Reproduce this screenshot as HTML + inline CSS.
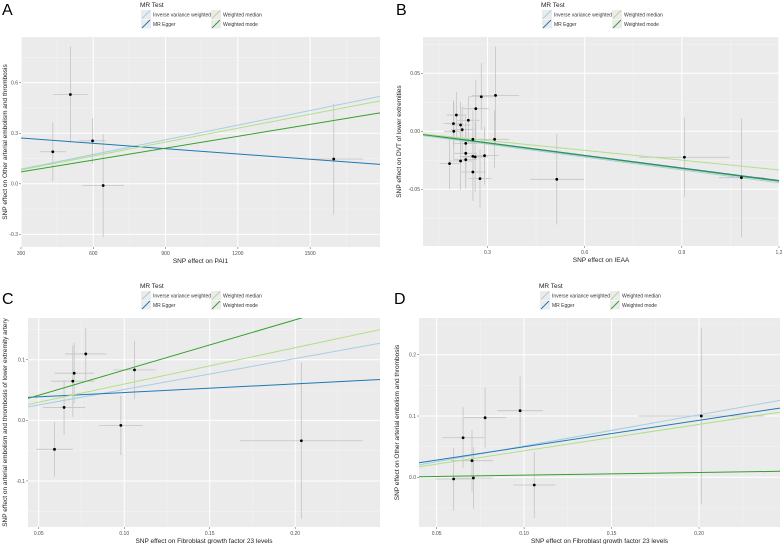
<!DOCTYPE html>
<html><head><meta charset="utf-8"><style>
body{margin:0;background:#fff;}
svg{display:block;font-family:"Liberation Sans",sans-serif;}
</style></head><body>
<svg id="fig" width="784" height="544" viewBox="0 0 784 544" xmlns="http://www.w3.org/2000/svg"></svg>
<script>
// Method order: Inverse variance weighted, MR Egger, Weighted median, Weighted mode
const methods=["Inverse variance weighted","MR Egger","Weighted median","Weighted mode"];
const methodColors=["#a6cee3","#1f78b4","#b2df8a","#33a02c"];

// Panel A
const A_x=[432,505,597,641,1598];
const A_y=[0.19,0.53,0.255,-0.01,0.147];
const A_xse=[55,72,55,86,123];
const A_yse=[0.175,0.285,0.135,0.305,0.33];
const A_slope=[0.00029,-0.000105,0.000275,0.000235];
const A_int=[0,0.303,0,0];
const A_xticks=[300,600,900,1200,1500];
const A_xlabels=["300","600","900","1200","1500"];
const A_yticks=[-0.3,0,0.3,0.6];
const A_ylabels=["-0.3","0.0","0.3","0.6"];

// Panel B
const B_x=[0.204,0.195,0.217,0.241,0.222,0.196,0.264,0.281,0.325,0.255,0.322,0.233,0.233,0.255,0.262,0.291,0.233,0.217,0.183,0.255,0.277,0.514,0.908,1.084];
const B_y=[0.014,0.0066,0.0054,0.0095,0.0014,0,0.0195,0.0298,0.031,-0.0069,-0.0069,-0.0104,-0.019,-0.0216,-0.0221,-0.021,-0.0245,-0.0256,-0.0279,-0.0351,-0.0408,-0.0414,-0.0224,-0.04];
const B_xse=[0.03,0.03,0.03,0.035,0.035,0.03,0.04,0.04,0.073,0.04,0.045,0.035,0.035,0.04,0.04,0.045,0.035,0.035,0.03,0.04,0.035,0.083,0.14,0.07];
const B_yse=[0.02,0.02,0.02,0.02,0.02,0.025,0.025,0.029,0.042,0.025,0.025,0.025,0.025,0.025,0.03,0.025,0.025,0.025,0.022,0.025,0.025,0.039,0.034,0.051];
const B_slope=[-0.037,-0.0362,-0.0282,-0.0365];
const B_int=[0,0.001,0.0005,0.0008];
const B_xticks=[0.3,0.6,0.9,1.2];
const B_xlabels=["0.3","0.6","0.9","1.2"];
const B_yticks=[-0.05,0,0.05];
const B_ylabels=["-0.05","0.00","0.05"];

// Panel C
const C_x=[0.0592,0.0648,0.0699,0.0707,0.0775,0.106,0.098,0.2036];
const C_y=[-0.0478,0.0214,0.0647,0.0779,0.1097,0.0834,-0.0082,-0.0336];
const C_xse=[0.0107,0.0122,0.0127,0.0116,0.012,0.0123,0.0127,0.036];
const C_yse=[0.045,0.045,0.059,0.05,0.043,0.048,0.049,0.129];
const C_slope=[0.51,0.143,0.60,0.83];
const C_int=[0,0.0317,0,0];
const C_xticks=[0.05,0.10,0.15,0.20];
const C_xlabels=["0.05","0.10","0.15","0.20"];
const C_yticks=[-0.1,0,0.1];
const C_ylabels=["-0.1","0.0","0.1"];

// Panel D
const D_x=[0.0597,0.0651,0.0702,0.071,0.0777,0.0977,0.1058,0.2013];
const D_y=[-0.0028,0.0646,0.0271,-0.0011,0.0973,0.1087,-0.0126,0.100];
const D_xse=[0.0105,0.012,0.012,0.011,0.012,0.013,0.012,0.036];
const D_yse=[0.051,0.05,0.05,0.05,0.049,0.056,0.054,0.143];
const D_slope=[0.51,0.432,0.432,0.0426];
const D_int=[0,0.0066,0,-0.0007];
const D_xticks=[0.05,0.10,0.15,0.20];
const D_xlabels=["0.05","0.10","0.15","0.20"];
const D_yticks=[0,0.1,0.2];
const D_ylabels=["0.0","0.1","0.2"];

const NS="http://www.w3.org/2000/svg";
const svg=document.getElementById("fig");
function mk(tag,attrs,parent){const e=document.createElementNS(NS,tag);for(const k in attrs)e.setAttribute(k,attrs[k]);(parent||svg).appendChild(e);return e;}

const panels=[
 {id:"a",letter:"A",l:21,t:37,r:380,b:247,xd:[300,1790],yd:[-0.375,0.871],x:A_x,y:A_y,xse:A_xse,yse:A_yse,sl:A_slope,ic:A_int,xt:A_xticks,xl:A_xlabels,yt:A_yticks,yl:A_ylabels,
  xtitle:"SNP effect on PAI1",ytitle:"SNP effect on Other arterial embolism and thrombosis",lx:141,ly:0,letterX:2},
 {id:"b",letter:"B",l:423,t:37,r:779,b:246,xd:[0.101,1.2],yd:[-0.0989,0.0813],x:B_x,y:B_y,xse:B_xse,yse:B_yse,sl:B_slope,ic:B_int,xt:B_xticks,xl:B_xlabels,yt:B_yticks,yl:B_ylabels,
  xtitle:"SNP effect on IEAA",ytitle:"SNP effect on DVT of lower extremities",lx:542,ly:0,letterX:396},
 {id:"c",letter:"C",l:28,t:318,r:380,b:527,xd:[0.0437,0.2496],yd:[-0.176,0.169],x:C_x,y:C_y,xse:C_xse,yse:C_yse,sl:C_slope,ic:C_int,xt:C_xticks,xl:C_xlabels,yt:C_yticks,yl:C_ylabels,
  xtitle:"SNP effect on Fibroblast growth factor 23 levels",ytitle:"SNP effect on arterial embolism and thrombosis of lower extremity artery",lx:141,ly:281,letterX:2},
 {id:"d",letter:"D",l:419,t:318,r:780,b:527,xd:[0.0399,0.2463],yd:[-0.0811,0.260],x:D_x,y:D_y,xse:D_xse,yse:D_yse,sl:D_slope,ic:D_int,xt:D_xticks,xl:D_xlabels,yt:D_yticks,yl:D_ylabels,
  xtitle:"SNP effect on Fibroblast growth factor 23 levels",ytitle:"SNP effect on Other arterial embolism and thrombosis",lx:540,ly:281,letterX:394}
];

panels.forEach(p=>{
  const g=mk("g",{});
  
  
  const sx=v=>p.l+(v-p.xd[0])/(p.xd[1]-p.xd[0])*(p.r-p.l);
  const sy=v=>p.b-(v-p.yd[0])/(p.yd[1]-p.yd[0])*(p.b-p.t);
  const bg=mk("rect",{x:p.l,y:p.t,width:p.r-p.l,height:p.b-p.t,fill:"#ebebeb"},g);
  
  
  const cp=mk("clipPath",{id:"clip-"+p.id},g);
  mk("rect",{x:p.l,y:p.t,width:p.r-p.l,height:p.b-p.t},cp);
  // minor grid
  const dx=p.xt[1]-p.xt[0], dy=p.yt[1]-p.yt[0];
  for(let v=p.xt[0]-dx*1.5;v<=p.xd[1]+dx;v+=dx){if(v>p.xd[0]&&v<p.xd[1]){mk("line",{x1:sx(v),x2:sx(v),y1:p.t,y2:p.b,stroke:"#f5f5f5","stroke-width":0.5},g);}}
  for(let v=p.yt[0]-dy*1.5;v<=p.yd[1]+dy;v+=dy){if(v>p.yd[0]&&v<p.yd[1]){mk("line",{y1:sy(v),y2:sy(v),x1:p.l,x2:p.r,stroke:"#f5f5f5","stroke-width":0.5},g);}}
  p.xt.forEach((v,i)=>{
    mk("line",{x1:sx(v),x2:sx(v),y1:p.t,y2:p.b,stroke:"#fff","stroke-width":1},g);
    mk("line",{x1:sx(v),x2:sx(v),y1:p.b,y2:p.b+2,stroke:"#555","stroke-width":0.5},g);
    const t=mk("text",{x:sx(v),y:p.b+8,"font-size":5,fill:"#4d4d4d","text-anchor":"middle"},g);
    t.textContent=p.xl[i];
    
    
  });
  p.yt.forEach((v,i)=>{
    mk("line",{y1:sy(v),y2:sy(v),x1:p.l,x2:p.r,stroke:"#fff","stroke-width":1},g);
    mk("line",{y1:sy(v),y2:sy(v),x1:p.l-2,x2:p.l,stroke:"#555","stroke-width":0.5},g);
    const t=mk("text",{x:p.l-3,y:sy(v)+1.8,"font-size":5,fill:"#4d4d4d","text-anchor":"end"},g);
    t.textContent=p.yl[i];
    
    
  });
  const cg=mk("g",{"clip-path":"url(#clip-"+p.id+")"},g);
  // error bars
  p.x.forEach((xv,i)=>{
    const yv=p.y[i];
    const h=mk("line",{x1:sx(xv-p.xse[i]),x2:sx(xv+p.xse[i]),y1:sy(yv),y2:sy(yv),stroke:"#c4c4c4","stroke-width":0.8},cg);
    
    
    const v=mk("line",{x1:sx(xv),x2:sx(xv),y1:sy(yv-p.yse[i]),y2:sy(yv+p.yse[i]),stroke:"#c4c4c4","stroke-width":0.8},cg);
    
    
  });
  // lines
  p.sl.forEach((s,k)=>{
    const x0=p.xd[0],x1=p.xd[1];
    const ln=mk("line",{x1:sx(x0),x2:sx(x1),y1:sy(p.ic[k]+s*x0),y2:sy(p.ic[k]+s*x1),stroke:methodColors[k],"stroke-width":1},cg);
    
    
  });
  p.x.forEach((xv,i)=>{
    const c=mk("circle",{cx:sx(xv),cy:sy(p.y[i]),r:1.4,fill:"#000"},cg);
    
    
  });
  // titles
  const xt=mk("text",{x:(p.l+p.r)/2,y:p.b+16,"font-size":6.5,fill:"#222","text-anchor":"middle"},g);
  xt.textContent=p.xtitle;
  
  
  const yc=(p.t+p.b)/2, yx=p.letterX+5;
  const yt=mk("text",{x:yx,y:yc,"font-size":6.5,fill:"#222","text-anchor":"middle",transform:"rotate(-90 "+yx+" "+yc+")"},g);
  yt.textContent=p.ytitle;
  
  
  const lt=mk("text",{x:p.letterX,y:(p.ly?p.ly+8:0)+15,"font-size":16,fill:"#000"},g);
  lt.textContent=p.letter;
  
  
  // legend
  const lg=mk("g",{},g);
  
  
  const tt=mk("text",{x:p.lx-1,y:p.ly+7,"font-size":6.5,fill:"#222"},lg);
  tt.textContent="MR Test";
  const cols=[0,70], rows=[10,19.5];
  methods.forEach((m,k)=>{
    const cx=p.lx+cols[Math.floor(k/2)], cy=p.ly+rows[k%2];
    const e=mk("g",{},lg);
    
    
    mk("rect",{x:cx,y:cy,width:10,height:9,fill:"#ebebeb"},e);
    mk("line",{x1:cx+1,y1:cy+8.5,x2:cx+9,y2:cy+0.5,stroke:methodColors[k],"stroke-width":1},e);
    const tx=mk("text",{x:cx+12,y:cy+6.5,"font-size":5,fill:"#333"},e);
    tx.textContent=m;
  });
});
</script>
</body></html>
